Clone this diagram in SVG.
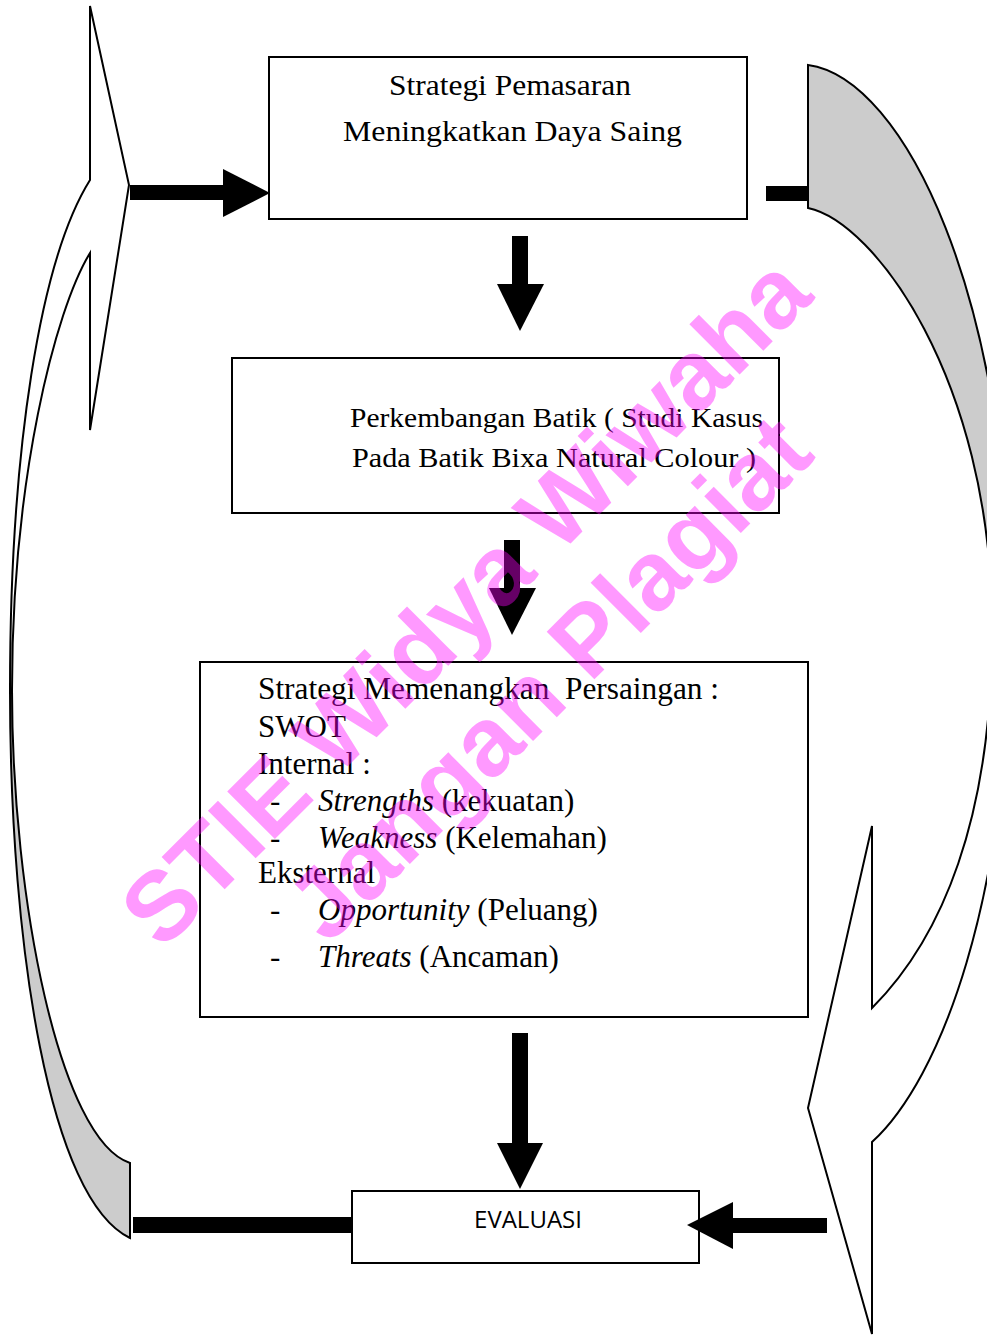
<svg xmlns="http://www.w3.org/2000/svg" width="987" height="1336" viewBox="0 0 987 1336">
<style>
.box{fill:#fff;stroke:#000;stroke-width:2}
.shape{stroke:#000;stroke-width:2;stroke-linejoin:miter}
.wht{fill:#fff}
.gry{fill:#cccccc}
.arr{fill:#000}
.serif{font-family:"Liberation Serif","Times New Roman",serif;fill:#000}
.sans{font-family:"Open Sans","DejaVu Sans",sans-serif;fill:#000}
.wm{font-family:"Liberation Sans",Arial,sans-serif;font-weight:bold;fill:#ff00ff;fill-opacity:0.4}
</style>
<rect width="987" height="1336" fill="#fff"/>
<g id="left-curved-arrow">
<path class="shape wht" d="M90,180 L90,6 L129,185 L90,430 L90,253 C55,310 12,480 12,690 L10,690 C10,450 40,260 90,180 Z"/>
<path class="shape gry" d="M10,690 C10,950 50,1200 130,1238 L130,1163 C60,1140 12,900 12,690 Z"/>
</g>
<g id="right-curved-arrow">
<path class="shape gry" d="M808,65 C905,78 1010,300 1010,620 L992,620 C990,380 875,222 808,208 Z"/>
<path class="shape wht" d="M1010,620 C1010,900 940,1080 872,1142 L872,1334 L808,1108 L872,826 L872,1008 C940,940 994,820 992,620 Z"/>
</g>
<g id="node-strategi-pemasaran">
<rect class="box" x="269" y="57" width="478" height="162"/>
<text class="serif" x="389" y="95" font-size="30" textLength="242" lengthAdjust="spacingAndGlyphs">Strategi Pemasaran</text>
<text class="serif" x="343" y="141" font-size="30" textLength="339" lengthAdjust="spacingAndGlyphs">Meningkatkan Daya Saing</text>
</g>
<g id="node-perkembangan-batik">
<rect class="box" x="232" y="358" width="547" height="155"/>
<text class="serif" x="350" y="427" font-size="28" textLength="413" lengthAdjust="spacingAndGlyphs">Perkembangan Batik ( Studi Kasus</text>
<text class="serif" x="352" y="467" font-size="28" textLength="404" lengthAdjust="spacingAndGlyphs">Pada Batik Bixa Natural Colour )</text>
</g>
<g id="node-swot">
<rect class="box" x="200" y="662" width="608" height="355"/>
<g class="serif" font-size="31">
<text x="258" y="699" textLength="461" lengthAdjust="spacingAndGlyphs" style="white-space:pre">Strategi Memenangkan  Persaingan :</text>
<text x="258" y="737">SWOT</text>
<text x="258" y="774">Internal :</text>
<text x="270" y="811">-</text>
<text x="318" y="811"><tspan font-style="italic">Strengths</tspan> (kekuatan)</text>
<text x="270" y="848">-</text>
<text x="318" y="848"><tspan font-style="italic">Weakness</tspan> (Kelemahan)</text>
<text x="258" y="883">Eksternal</text>
<text x="270" y="920">-</text>
<text x="318" y="920"><tspan font-style="italic">Opportunity</tspan> (Peluang)</text>
<text x="270" y="967">-</text>
<text x="318" y="967"><tspan font-style="italic">Threats</tspan> (Ancaman)</text>
</g>
</g>
<g id="node-evaluasi">
<rect class="box" x="352" y="1191" width="347" height="72"/>
<text class="sans" x="528" y="1228" font-size="24" text-anchor="middle">EVALUASI</text>
</g>
<g id="connectors">
<rect class="arr" x="130" y="185" width="95" height="15"/>
<polygon class="arr" points="223,169 270,193 223,217"/>
<rect class="arr" x="766" y="186" width="42" height="15"/>
<rect class="arr" x="512" y="236" width="16" height="50"/>
<polygon class="arr" points="497,284 544,284 520,331"/>
<rect class="arr" x="504" y="540" width="16" height="50"/>
<polygon class="arr" points="489,588 536,588 512,635"/>
<rect class="arr" x="512" y="1033" width="16" height="112"/>
<polygon class="arr" points="497,1143 543,1143 520,1189"/>
<rect class="arr" x="133" y="1217" width="219" height="16"/>
<rect class="arr" x="731" y="1218" width="96" height="15"/>
<polygon class="arr" points="733,1202 687,1225 733,1249"/>
</g>
<g id="watermark" transform="translate(489,625) rotate(-45)">
<text class="wm" x="0" y="0" font-size="98" text-anchor="middle">STIE Widya Wiwaha</text>
<text class="wm" x="5" y="113" font-size="98" text-anchor="middle">Jangan Plagiat</text>
</g>
</svg>
